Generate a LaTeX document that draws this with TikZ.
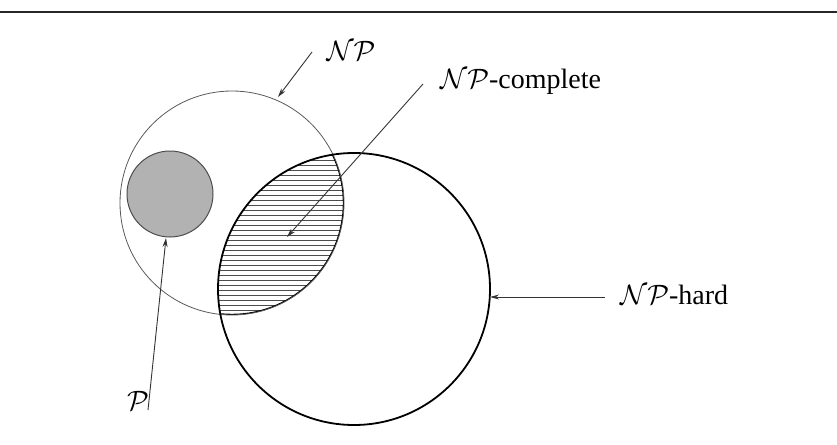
\RequirePackage{fix-cm}
\documentclass[tikz,border=0pt]{standalone}
\usepackage{fontspec}
\setmainfont{Liberation Serif}
\usetikzlibrary{arrows.meta}
\begin{document}
\begin{tikzpicture}[x=1pt,y=-1pt,
  lbl/.style={font=\fontsize{28}{33}\selectfont, inner sep=0pt},
  arr/.style={line width=0.9pt, draw=black!80, -{Stealth[length=9pt,width=5pt]}},
  thinring/.style={line width=0.8pt, draw=black!65},
  thickring/.style={line width=1.8pt, draw=black},
  hatch/.style={line width=1pt, draw=black!70},
]
\useasboundingbox (0,0) rectangle (837,444);
% top rule
\coordinate (rl) at (0,12);
\coordinate (rr) at (837,12);
\draw[line width=2pt, black!85] (rl) -- (rr);
% centres
\coordinate (cnp) at (232,203);
\coordinate (cnph) at (354,289);
\coordinate (cp) at (170,194);
% P disc
\fill[gray!60] (cp) circle[radius=43pt];
\draw[line width=1pt, black!70] (cp) circle[radius=43pt];
% hatched lens
\begin{scope}
  \clip (cnp) circle[radius=112pt];
  \clip (cnph) circle[radius=136pt];
  \foreach \y in {150,155,...,330} \draw[hatch] (200,\y) -- (360,\y);
  \draw[line width=2.4pt] (cnp) circle[radius=112pt];
\end{scope}
% rings
\draw[thinring] (cnp) circle[radius=112pt];
\draw[thickring] (cnph) circle[radius=136pt];
% labels
\node[lbl] (npl) at (351,51) {$\mathcal{NP}$};
\node[lbl, anchor=base west] (npcl) at (440,88) {$\mathcal{NP}$-complete};
\node[lbl, anchor=base west] (nphl) at (620,304) {$\mathcal{NP}$-hard};
\node[lbl] (pl) at (138,401) {$\mathcal{P}$};
% arrow ends
\coordinate (snp) at (312,52);
\coordinate (tnp) at (278,97);
\coordinate (snpc) at (423,84);
\coordinate (tnpc) at (287,237);
\coordinate (snph) at (605,297);
\coordinate (tnph) at (490,297);
\coordinate (sp) at (148,410);
\coordinate (tp) at (166,238);
\draw[arr] (snp) -- (tnp);
\draw[arr] (snpc) -- (tnpc);
\draw[arr] (snph) -- (tnph);
\draw[arr] (sp) -- (tp);
\end{tikzpicture}
\end{document}
